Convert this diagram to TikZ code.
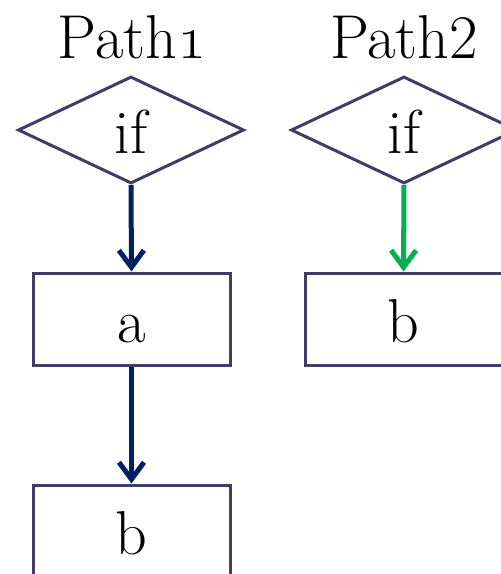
\RequirePackage{fix-cm}
\documentclass[tikz,border=0pt]{standalone}
\usetikzlibrary{shapes.geometric,arrows.meta}
\definecolor{frame}{HTML}{3F3D68}
\definecolor{navyflow}{HTML}{002060}
\definecolor{greenflow}{HTML}{00B050}
\begin{document}
\begin{tikzpicture}[x=1pt,y=-1pt,
  every node/.style={font=\fontsize{62}{70}\selectfont},
  decision/.style={diamond, draw=frame, line width=3pt, aspect=2.1,
    minimum width=226pt, minimum height=107pt, inner sep=0pt,
    text height=50pt, text depth=3pt},
  stepbox/.style={rectangle, draw=frame, line width=3pt,
    minimum width=197pt, minimum height=92pt, inner sep=0pt,
    text height=50pt, text depth=3pt},
  flow/.style={line width=5pt, -{Straight Barb[length=17pt,width=25pt]}}
]
\useasboundingbox (0,0) rectangle (501,574);
\clip (0,0) rectangle (501,574);

% headings
\node[anchor=base] (h1) at (132,58) {Path\oldstylenums{1}};
\node[anchor=base] (h2) at (404,58) {Path2};

% first path: if -> a -> b
\node[decision] (if1) at (131,130) {if};
\node[stepbox]  (a1)  at (131.5,319) {a};
\node[stepbox]  (b1)  at (131.5,531) {b};

% second path: if -> b
\node[decision] (if2) at (404,130) {if};
\node[stepbox]  (b2)  at (403.5,319) {b};

\draw[flow, draw=navyflow] (if1.south) -- (a1.north);
\draw[flow, draw=navyflow] (a1.south) -- (b1.north);
\draw[flow, draw=greenflow] (if2.south) -- (b2.north);
\end{tikzpicture}
\end{document}
